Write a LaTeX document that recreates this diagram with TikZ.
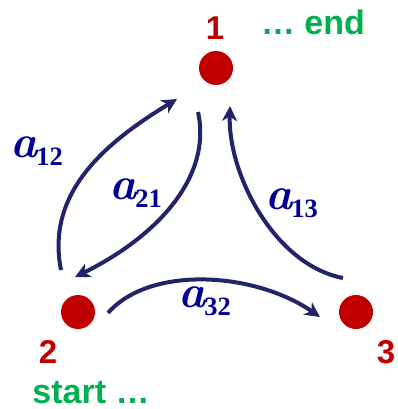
\documentclass[tikz,border=0pt]{standalone}
\usepackage{fontspec}
\newfontfamily\numfont{Liberation Sans}
\newfontfamily\subfont{Liberation Serif}
\usetikzlibrary{arrows.meta}
\definecolor{dotred}{RGB}{192,0,0}
\definecolor{arrnavy}{RGB}{35,35,105}
\definecolor{labblue}{RGB}{0,0,150}
\definecolor{txtgreen}{RGB}{0,176,80}
\newcommand{\coef}[1]{{\bfseries\itshape a}\kern-1pt\raisebox{-8pt}{\subfont\bfseries\fontsize{26.5}{28}\selectfont #1}}
\tikzset{
  statedot/.style={circle,fill=dotred,minimum size=34pt,inner sep=0pt},
  numlab/.style={text=dotred,font=\numfont\bfseries\fontsize{33}{36}\selectfont,anchor=base,inner sep=0pt},
  greenlab/.style={text=txtgreen,font=\numfont\bfseries\fontsize{34}{38}\selectfont,anchor=base,inner sep=0pt},
  arlab/.style={text=labblue,font=\fontsize{46}{50}\selectfont,anchor=base west,inner sep=0pt},
  arr/.style={draw=arrnavy,line width=4pt,-{Stealth[length=15pt,width=15pt,inset=4.5pt]}},
}
\begin{document}
\begin{tikzpicture}[x=1pt,y=-1pt]
\useasboundingbox (0,0) rectangle (397,409);
\node[statedot] (n1) at (216,68) {};
\node[statedot] (n2) at (78,312) {};
\node[statedot] (n3) at (356,312) {};
\node[numlab] (l1) at (215,40) {1};
\node[numlab] (l2) at (48,363) {2};
\node[numlab] (l3) at (386,363) {3};
\node[greenlab] (tend) at (313,35) {… end};
\node[greenlab] (tstart) at (91,403) {start …};
% connectors
\draw[arr] ([shift={(-17,-42)}]n2.center) .. controls (45,190) and (110,140) .. ([shift={(-39,31)}]n1.center);
\draw[arr] ([shift={(-18,44)}]n1.center) .. controls (212,175) and (160,235) .. ([shift={(-3,-35)}]n2.center);
\draw[arr] ([shift={(-13,-34)}]n3.center) .. controls (275,265) and (228,175) .. ([shift={(14,38)}]n1.center);
\draw[arr] ([shift={(30,1)}]n2.center) .. controls (150,265) and (255,272) .. ([shift={(-36,5)}]n3.center);
\node[arlab] (a12) at (10,157) {\coef{12}};
\node[arlab] (a21) at (109,199) {\coef{21}};
\node[arlab] (a13) at (265,209) {\coef{13}};
\node[arlab] (a32) at (178,307) {\coef{32}};
\end{tikzpicture}
\end{document}
